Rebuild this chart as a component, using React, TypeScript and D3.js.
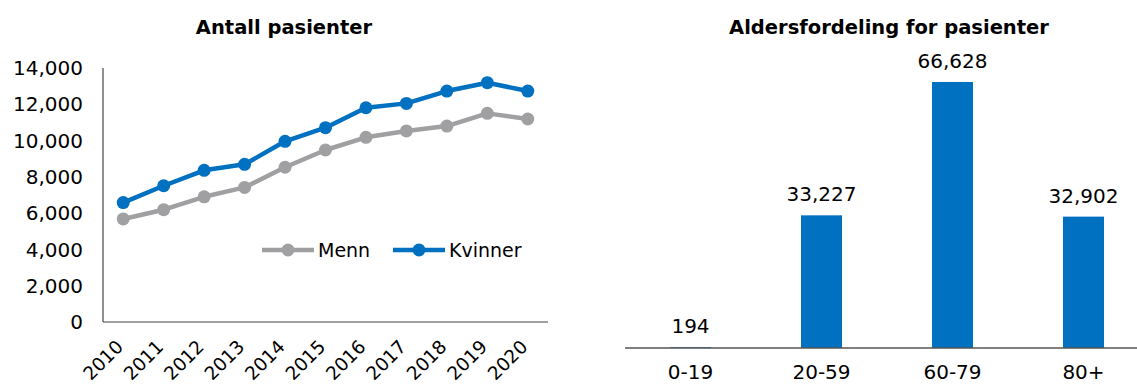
import React from "react";
import * as d3 from "d3";

const years = ["2010","2011","2012","2013","2014","2015","2016","2017","2018","2019","2020"];
const menn = [5680, 6190, 6900, 7420, 8530, 9480, 10180, 10530, 10800, 11500, 11190];
const kvinner = [6580, 7510, 8360, 8690, 9960, 10710, 11810, 12050, 12730, 13190, 12730];
const yTicks = [0, 2000, 4000, 6000, 8000, 10000, 12000, 14000];

const ageGroups = ["0-19", "20-59", "60-79", "80+"];
const ageValues = [194, 33227, 66628, 32902];

const BLUE = "#0070C0";
const GRAY = "#A0A0A2";
const FONT = "DejaVu Sans, sans-serif";
const fmt = d3.format(",");

export default function App() {
  // Left chart
  const x = d3.scaleBand<string>().domain(years).range([103, 548]).padding(0);
  const y = d3.scaleLinear().domain([0, 14000]).range([322, 68]);
  const cx = (d: string) => (x(d) as number) + x.bandwidth() / 2;
  const line = d3.line<number>().x((_, i) => cx(years[i])).y((v) => y(v));

  // Right chart
  const xb = d3.scaleBand<string>().domain(ageGroups).range([625, 1149]).paddingInner(0.687).paddingOuter(0.3435);
  const yb = d3.scaleLinear().domain([0, 70000]).range([348, 68.5]);

  const series = [
    { name: "Menn", data: menn, color: GRAY, lx: 262 },
    { name: "Kvinner", data: kvinner, color: BLUE, lx: 393 },
  ];

  return (
    <svg width={1137} height={385} style={{ display: "block", position: "absolute", left: 0, top: 0 }} fontFamily={FONT}>
      <rect width={1137} height={385} fill="#fff" />
      {/* Left title */}
      <text x={284} y={34} textAnchor="middle" fontWeight="bold" fontSize={19.5} fill="#000">Antall pasienter</text>
      {/* Axes */}
      <line x1={103} x2={103} y1={y(14000)} y2={y(0)} stroke="#222" strokeWidth={1} />
      <line x1={103} x2={548} y1={y(0)} y2={y(0)} stroke="#444" strokeWidth={1.2} />
      {yTicks.map((t) => (
        <text key={t} x={83} y={y(t)} dy="0.36em" textAnchor="end" fontSize={20} fill="#000">{fmt(t)}</text>
      ))}
      {years.map((yr) => (
        <text key={yr} transform={`translate(${cx(yr) + 1},${348}) rotate(-45)`} textAnchor="end" fontSize={18.5} fill="#000">{yr}</text>
      ))}
      {series.map((s) => (
        <g key={s.name}>
          <path d={line(s.data) as string} fill="none" stroke={s.color} strokeWidth={4.5} strokeLinejoin="round" />
          {s.data.map((v, i) => (
            <circle key={i} cx={cx(years[i])} cy={y(v)} r={6.5} fill={s.color} />
          ))}
        </g>
      ))}
      {/* Legend */}
      {series.map((s) => (
        <g key={s.name + "-leg"}>
          <line x1={s.lx} x2={s.lx + 52} y1={250} y2={250} stroke={s.color} strokeWidth={4.5} />
          <circle cx={s.lx + 26} cy={250} r={6.5} fill={s.color} />
          <text x={s.lx + 56} y={250} dy="0.36em" fontSize={19} fill="#000">{s.name}</text>
        </g>
      ))}

      {/* Right chart */}
      <text x={889} y={34} textAnchor="middle" fontWeight="bold" fontSize={19.5} fill="#000">Aldersfordeling for pasienter</text>
      {ageGroups.map((g, i) => {
        const bx = xb(g) as number;
        const v = ageValues[i];
        return (
          <g key={g}>
            <rect x={bx} y={yb(v)} width={xb.bandwidth()} height={yb(0) - yb(v)} fill={BLUE} />
            <text x={bx + xb.bandwidth() / 2} y={yb(v) - 14} textAnchor="middle" fontSize={20} fill="#000">{fmt(v)}</text>
            <text x={bx + xb.bandwidth() / 2} y={379} textAnchor="middle" fontSize={20} fill="#000">{g}</text>
          </g>
        );
      })}
      <line x1={625} x2={1137} y1={348} y2={348} stroke="#555" strokeWidth={1.5} />
    </svg>
  );
}
